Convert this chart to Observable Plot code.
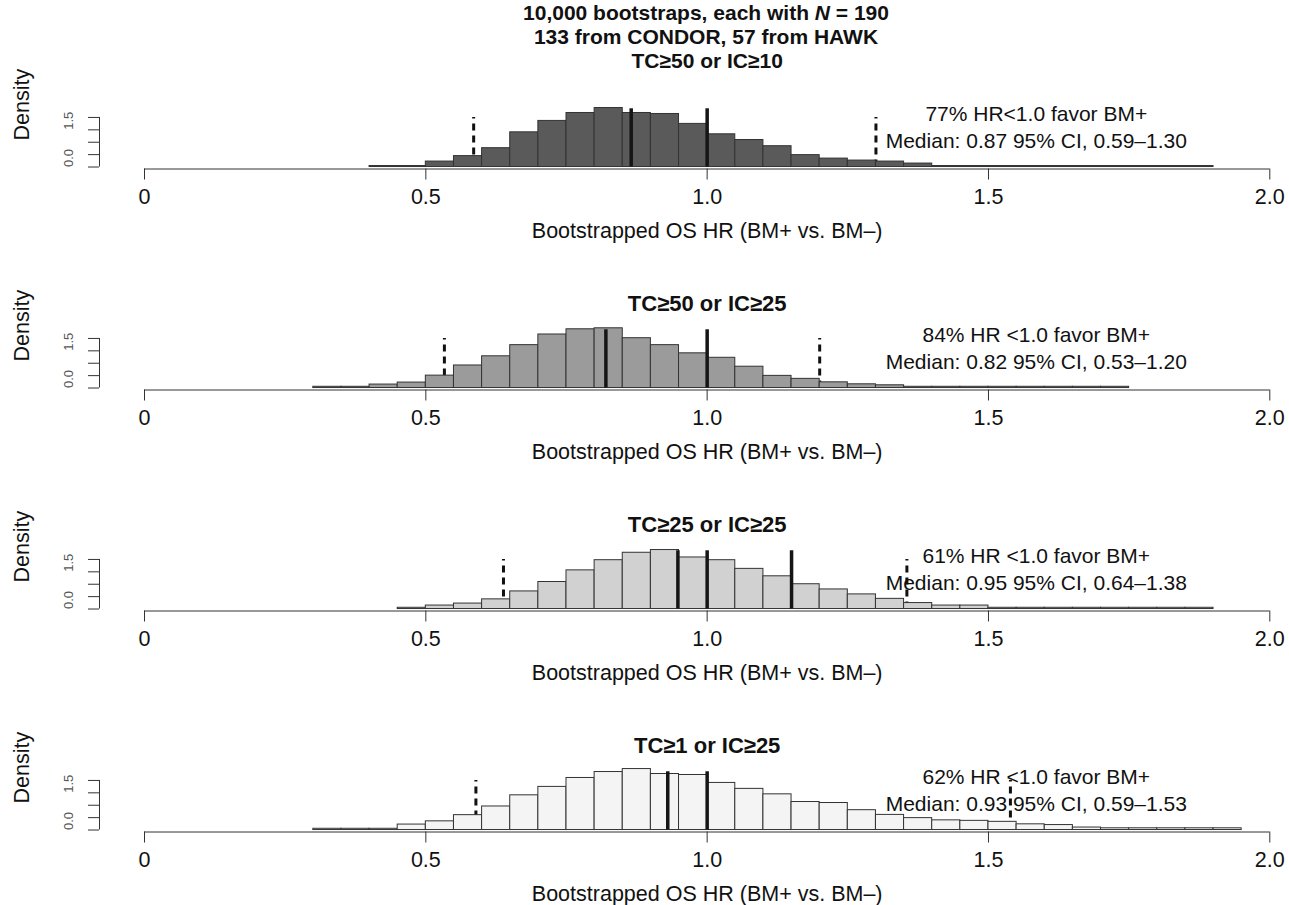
<!DOCTYPE html>
<html>
<head>
<meta charset="utf-8">
<script src="https://cdn.jsdelivr.net/npm/d3@7"></script>
<script src="https://cdn.jsdelivr.net/npm/@observablehq/plot@0.6"></script>
<style>
  html, body { margin: 0; padding: 0; background: #fff; overflow: hidden; }
  #wrap { position: relative; width: 1289px; height: 905px; font-family: "Liberation Sans", Arial, sans-serif; color: #111; }
  .panel { position: absolute; left: 0; }
  #toptitle { position: absolute; left: 306px; width: 800px; top: 1px; text-align: center;
              font-weight: bold; font-size: 21px; line-height: 24px; }
</style>
</head>
<body>
<div id="wrap">
  <div id="toptitle"></div>
</div>
<script>
// ---- data ----
const binWidth = 0.05;
const xTicks = [0, 0.5, 1.0, 1.5, 2.0];
const xTickLabels = ["0", "0.5", "1.0", "1.5", "2.0"];
const yTicks = [0, 0.5, 1.0, 1.5, 2.0];
const yTickLabels = ["0.0", "", "", "1.5", ""];
const xAxisTitle = "Bootstrapped OS HR (BM+ vs. BM\u2013)";
const yAxisTitle = "Density";
const topTitleLines = ["10,000 bootstraps, each with <i>N</i> = 190", "133 from CONDOR, 57 from HAWK"];

const panelTitles = ["TC\u226550 or IC\u226510", "TC\u226550 or IC\u226525", "TC\u226525 or IC\u226525", "TC\u22651 or IC\u226525"];
const panelFills = ["#5a5a5a", "#9b9b9b", "#d1d1d1", "#f4f4f4"];

const p1Start = 0.40;
const p1Density = [0.04, 0.04, 0.22, 0.44, 0.76, 1.40, 1.86, 2.18, 2.38, 2.18, 2.14, 1.74, 1.32, 1.09, 0.84,
  0.48, 0.34, 0.26, 0.22, 0.14, 0.04, 0.04, 0.04, 0.04, 0.04, 0.04, 0.04, 0.04, 0.04, 0.04];
const p2Start = 0.30;
const p2Density = [0.05, 0.05, 0.14, 0.22, 0.50, 0.91, 1.28, 1.73, 2.16, 2.37, 2.41, 2.01, 1.73, 1.40, 1.22,
  0.86, 0.49, 0.37, 0.23, 0.15, 0.11, 0.05, 0.05, 0.05, 0.05, 0.05, 0.05, 0.05, 0.05];
const p3Start = 0.45;
const p3Density = [0.05, 0.14, 0.22, 0.39, 0.71, 1.09, 1.56, 1.97, 2.27, 2.38, 2.08, 1.97, 1.62, 1.32, 1.00,
  0.79, 0.59, 0.41, 0.24, 0.14, 0.14, 0.05, 0.05, 0.05, 0.05, 0.05, 0.05, 0.05, 0.05];
const p4Start = 0.30;
const p4Density = [0.05, 0.05, 0.05, 0.22, 0.35, 0.60, 0.95, 1.40, 1.74, 2.10, 2.34, 2.46, 2.26, 2.22, 1.90,
  1.66, 1.44, 1.13, 1.09, 0.80, 0.61, 0.48, 0.39, 0.37, 0.33, 0.23, 0.20, 0.10, 0.07, 0.07, 0.07, 0.07, 0.07];

// solid lines (median, HR = 1.0, extra), dashed lines (95% CI)
const p1Solid = [0.865, 1.0];        const p1Dashed = [0.585, 1.30];
const p2Solid = [0.82, 1.0];         const p2Dashed = [0.533, 1.20];
const p3Solid = [0.948, 1.0, 1.15];  const p3Dashed = [0.638, 1.355];
const p4Solid = [0.93, 1.0];         const p4Dashed = [0.589, 1.539];

const p1Notes = ["77% HR<1.0 favor BM+", "Median: 0.87 95% CI, 0.59\u20131.30"];
const p2Notes = ["84% HR <1.0 favor BM+", "Median: 0.82 95% CI, 0.53\u20131.20"];
const p3Notes = ["61% HR <1.0 favor BM+", "Median: 0.95 95% CI, 0.64\u20131.38"];
const p4Notes = ["62% HR <1.0 favor BM+", "Median: 0.93 95% CI, 0.59\u20131.53"];

const panels = [
  {start: p1Start, density: p1Density, solid: p1Solid, dashed: p1Dashed, notes: p1Notes},
  {start: p2Start, density: p2Density, solid: p2Solid, dashed: p2Dashed, notes: p2Notes},
  {start: p3Start, density: p3Density, solid: p3Solid, dashed: p3Dashed, notes: p3Notes},
  {start: p4Start, density: p4Density, solid: p4Solid, dashed: p4Dashed, notes: p4Notes}
];

// ---- layout ----
const W = 1289, H = 245, STEP = 221;
const xMinDomain = -0.08, yMinDomain = -0.08, yMaxDomain = 2.22;
const solidTop = 2.35, dashTop = 2.0;
const noteX = 1.585, noteY = [2.14, 1.05];
const titleDy = [-50.5, -29.5, -29.5, -29.5];
const titleSize = [21, 22, 22, 22];
const xMid = (xTicks[0] + xTicks[xTicks.length - 1]) / 2;

document.getElementById("toptitle").innerHTML = topTitleLines.join("<br>");

const wrap = document.getElementById("wrap");

panels.forEach((p, k) => {
  const bins = p.density.map((d, i) => ({x1: p.start + i * binWidth, x2: p.start + (i + 1) * binWidth, y: d}));
  const yLab = yTicks.map((v, i) => ({v, t: yTickLabels[i]})).filter(d => d.t !== "");
  const svg = Plot.plot({
    width: W,
    height: H,
    marginTop: 111.5,
    marginBottom: 76.5,
    marginLeft: 99,
    marginRight: 19.7,
    x: {domain: [xMinDomain, xTicks[xTicks.length - 1]]},
    y: {domain: [yMinDomain, yMaxDomain]},
    style: "background: transparent; overflow: visible; font-family: 'Liberation Sans', Arial, sans-serif; font-size: 21.5px; color: #111;",
    marks: [
      Plot.ruleX(p.dashed, {x: d => d, y1: 0, y2: dashTop, stroke: "#111", strokeWidth: 3, strokeDasharray: "7,5"}),
      Plot.rectY(bins, {x1: "x1", x2: "x2", y: "y", fill: panelFills[k], stroke: "#333", strokeWidth: 1}),
      Plot.ruleX(p.solid, {x: d => d, y1: 0, y2: solidTop, stroke: "#151515", strokeWidth: 3.5}),
      // x axis (R style)
      Plot.ruleY([yMinDomain], {x1: xTicks[0], x2: xTicks[xTicks.length - 1], stroke: "#333", strokeWidth: 1}),
      Plot.axisX(xTicks, {tickSize: 11, tickPadding: 9, stroke: "#333",
        tickFormat: d => xTickLabels[xTicks.indexOf(d)], label: null, fontSize: 21.5, fill: "#111"}),
      Plot.text([xAxisTitle], {x: xMid, frameAnchor: "bottom", lineAnchor: "middle", dy: 62, fontSize: 21.5, fill: "#111"}),
      // y axis (R style)
      Plot.ruleX([xMinDomain], {y1: yTicks[0], y2: yTicks[yTicks.length - 1], stroke: "#333", strokeWidth: 1}),
      Plot.axisY(yTicks, {tickSize: 11, stroke: "#333", tickFormat: () => "", label: null}),
      Plot.text(yLab, {y: "v", text: "t", frameAnchor: "left", dx: -31, rotate: -90, fontSize: 13, fill: "#555"}),
      Plot.text([yAxisTitle], {frameAnchor: "left", dx: -77, rotate: -90, fontSize: 21.5, fill: "#111"}),
      // panel title
      Plot.text([panelTitles[k]], {x: xMid, frameAnchor: "top", lineAnchor: "middle", dy: titleDy[k],
        fontWeight: "bold", fontSize: titleSize[k], fill: "#111"}),
      // annotations
      Plot.text(p.notes, {x: noteX, y: (d, i) => noteY[i], fontSize: 21, fill: "#111"})
    ]
  });
  svg.classList.add("panel");
  svg.style.top = (STEP * k) + "px";
  wrap.appendChild(svg);
});
</script>
</body>
</html>
